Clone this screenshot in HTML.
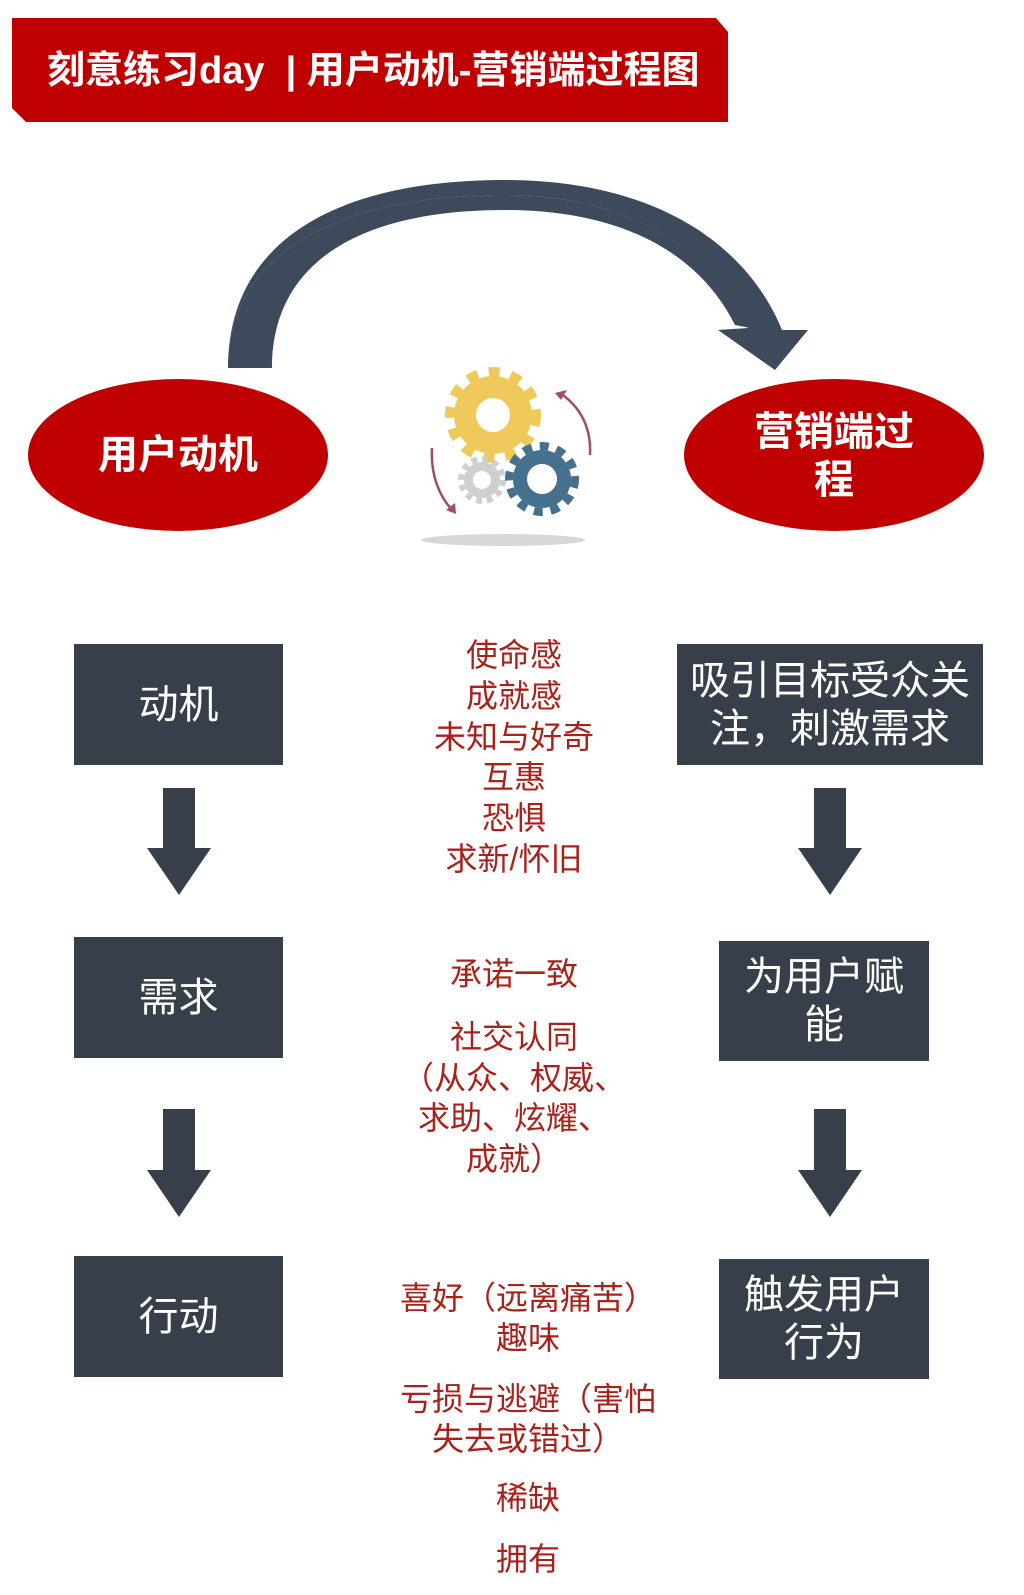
<!DOCTYPE html>
<html><head><meta charset="utf-8"><style>
html,body{margin:0;padding:0;background:#fff;}
body{width:1024px;height:1595px;position:relative;overflow:hidden;font-family:"Liberation Sans","Noto Sans CJK SC",sans-serif;}
.t{position:absolute;text-align:center;white-space:nowrap;}
.box{position:absolute;background:#37404a;color:#fff;display:flex;align-items:center;justify-content:center;text-align:center;font-size:40px;line-height:48px;}
.red{position:absolute;left:364px;width:300px;text-align:center;color:#a8221c;font-size:32px;line-height:40px;white-space:nowrap;}
</style></head><body>
<svg width="1024" height="1595" style="position:absolute;left:0;top:0">
<polygon points="12,18 716,18 728,32 728,122 26,122 12,108" fill="#c00000"/>
<path d="M228,368 C228,252 340,195 505,195 C625,195 712,248 748,328 L718,330 L775,370 L808,330 L782,330 C745,240 650,180 505,180 C330,180 228,245 228,368 Z" fill="#3d4a5c"/>
<path d="M228,368 L272,368 C272,262 360,210 505,210 C625,210 700,255 735,325 L750,328 C712,248 625,195 505,195 C340,195 228,252 228,368 Z" fill="#3d4a5c"/>
<ellipse cx="178" cy="455" rx="150" ry="76" fill="#c00000"/>
<ellipse cx="834" cy="455" rx="150" ry="76" fill="#c00000"/>
<ellipse cx="503" cy="540" rx="82" ry="6" fill="#d8d8d8"/>
<circle cx="493" cy="415" r="39" fill="#f0c95c"/>
<circle cx="493" cy="415" r="43" fill="none" stroke="#f0c95c" stroke-width="10" stroke-dasharray="11 11"/>
<circle cx="493" cy="415" r="17" fill="#fff"/>
<circle cx="482" cy="480" r="18" fill="#cfcfcf"/>
<circle cx="482" cy="480" r="21" fill="none" stroke="#cfcfcf" stroke-width="6" stroke-dasharray="6 5"/>
<circle cx="482" cy="480" r="9" fill="#fff"/>
<circle cx="542" cy="479" r="29" fill="#45708e"/>
<circle cx="542" cy="479" r="33" fill="none" stroke="#45708e" stroke-width="8" stroke-dasharray="9 8"/>
<circle cx="542" cy="479" r="15" fill="#fff"/>
<path d="M432,448 Q430,485 452,510" fill="none" stroke="#a0505a" stroke-width="2.5"/>
<polygon points="446,510 456,514 455,503" fill="#a0505a"/>
<path d="M590,455 Q592,415 560,393" fill="none" stroke="#a0505a" stroke-width="2.5"/>
<polygon points="555,393 567,390 561,400" fill="#a0505a"/>
<g fill="#37404a">
<polygon points="163,788 195,788 195,848 211,848 179,895 147,848 163,848"/>
<polygon points="163,1109 195,1109 195,1170 211,1170 179,1217 147,1170 163,1170"/>
<polygon points="814,788 846,788 846,848 862,848 830,895 798,848 814,848"/>
<polygon points="814,1109 846,1109 846,1170 862,1170 830,1217 798,1170 814,1170"/>
</g>
</svg>
<div class="t" style="left:47px;top:46px;color:#fff;font-size:38px;font-weight:bold;line-height:50px;">刻意练习day &nbsp;| 用户动机-营销端过程图</div>
<div class="t" style="left:28px;width:300px;top:430px;color:#fff;font-size:40px;font-weight:bold;line-height:50px;">用户动机</div>
<div class="t" style="left:684px;width:300px;top:408px;color:#fff;font-size:40px;font-weight:bold;line-height:48px;">营销端过<br>程</div>
<div class="box" style="left:74px;top:644px;width:209px;height:121px;">动机</div>
<div class="box" style="left:74px;top:937px;width:209px;height:121px;">需求</div>
<div class="box" style="left:74px;top:1256px;width:209px;height:121px;">行动</div>
<div class="box" style="left:677px;top:644px;width:306px;height:121px;">吸引目标受众关<br>注，刺激需求</div>
<div class="box" style="left:719px;top:941px;width:210px;height:120px;">为用户赋<br>能</div>
<div class="box" style="left:719px;top:1259px;width:210px;height:120px;">触发用户<br>行为</div>
<div class="red" style="top:635px;line-height:40.8px;">使命感<br>成就感<br>未知与好奇<br>互惠<br>恐惧<br>求新/怀旧</div>
<div class="red" style="top:954px;">承诺一致</div>
<div class="red" style="top:1017px;line-height:40.7px;">社交认同<br>（从众、权威、<br>求助、炫耀、<br>成就）</div>
<div class="red" style="top:1278px;left:378px;">喜好（远离痛苦）<br>趣味</div>
<div class="red" style="top:1379px;left:378px;">亏损与逃避（害怕<br>失去或错过）</div>
<div class="red" style="top:1478px;left:378px;">稀缺</div>
<div class="red" style="top:1539px;left:378px;">拥有</div>
</body></html>
